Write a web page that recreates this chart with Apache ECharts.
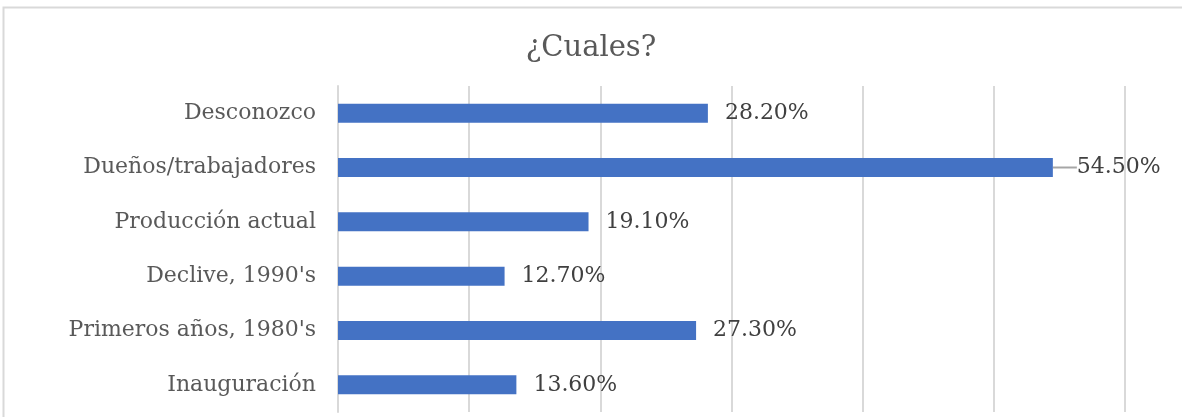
<!DOCTYPE html>
<html>
<head>
<meta charset="utf-8">
<script src="https://cdn.jsdelivr.net/npm/echarts@6/dist/echarts.min.js"></script>
<style>
  html, body { margin: 0; padding: 0; background: #fff; }
  #main { width: 1182px; height: 417px; }
</style>
</head>
<body>
<div id="main"></div>
<script>
// categories from top to bottom as in the picture
const categories = ['Desconozco', 'Dueños/trabajadores', 'Producción actual', "Declive, 1990's", "Primeros años, 1980's", 'Inauguración'];
const values = [28.2, 54.5, 19.1, 12.7, 27.3, 13.6];
const axisTicks = [0, 10, 20, 30, 40, 50, 60];

const serif = "'DejaVu Serif', 'Liberation Serif', serif";

let chartDom = document.getElementById('main');
let myChart = echarts.init(chartDom);

// reverse so the first category ends up on top
let catData = categories.slice().reverse();
let valData = values.slice().reverse().map((v, i) => {
  let item = {value: v};
  if (catData[i] === 'Dueños/trabajadores') {
    item.labelLine = {show: true, length2: 0, lineStyle: {color: '#a6a6a6', width: 2}};
  }
  return item;
});

let option = {
  animation: false,
  backgroundColor: '#fff',
  title: {
    text: '¿Cuales?',
    left: 'center',
    top: 29,
    textStyle: {fontFamily: serif, fontSize: 29, fontWeight: 'normal', color: '#595959'}
  },
  graphic: [
    {
      type: 'rect',
      shape: {x: 3.5, y: 7.5, width: 1200, height: 420},
      style: {fill: 'none', stroke: '#d9d9d9', lineWidth: 2}
    }
  ],
  grid: {left: 338, right: 1182 - 1125, top: 86, bottom: 417 - 412, containLabel: false},
  xAxis: {
    type: 'value',
    min: axisTicks[0],
    max: axisTicks[axisTicks.length - 1],
    interval: 10,
    axisLabel: {show: false},
    axisLine: {show: false},
    axisTick: {show: false},
    splitLine: {show: true, lineStyle: {color: '#d9d9d9', width: 2}}
  },
  yAxis: {
    type: 'category',
    data: catData,
    axisLine: {show: true, lineStyle: {color: '#d9d9d9', width: 2}},
    axisTick: {show: false},
    axisLabel: {fontFamily: serif, fontSize: 22, color: '#595959', margin: 22}
  },
  series: [
    {
      type: 'bar',
      data: valData,
      barWidth: 19,
      itemStyle: {color: '#4472c4'},
      label: {
        show: true,
        position: 'right',
        distance: 17,
        offset: [0, 3],
        fontFamily: serif,
        fontSize: 22,
        color: '#404040',
        formatter: p => p.value.toFixed(2) + '%'
      },
      labelLayout: function (params) {
        if (params.dataIndex === 4) {
          return {dx: 7};
        }
      }
    }
  ]
};
option && myChart.setOption(option);
</script>
</body>
</html>
